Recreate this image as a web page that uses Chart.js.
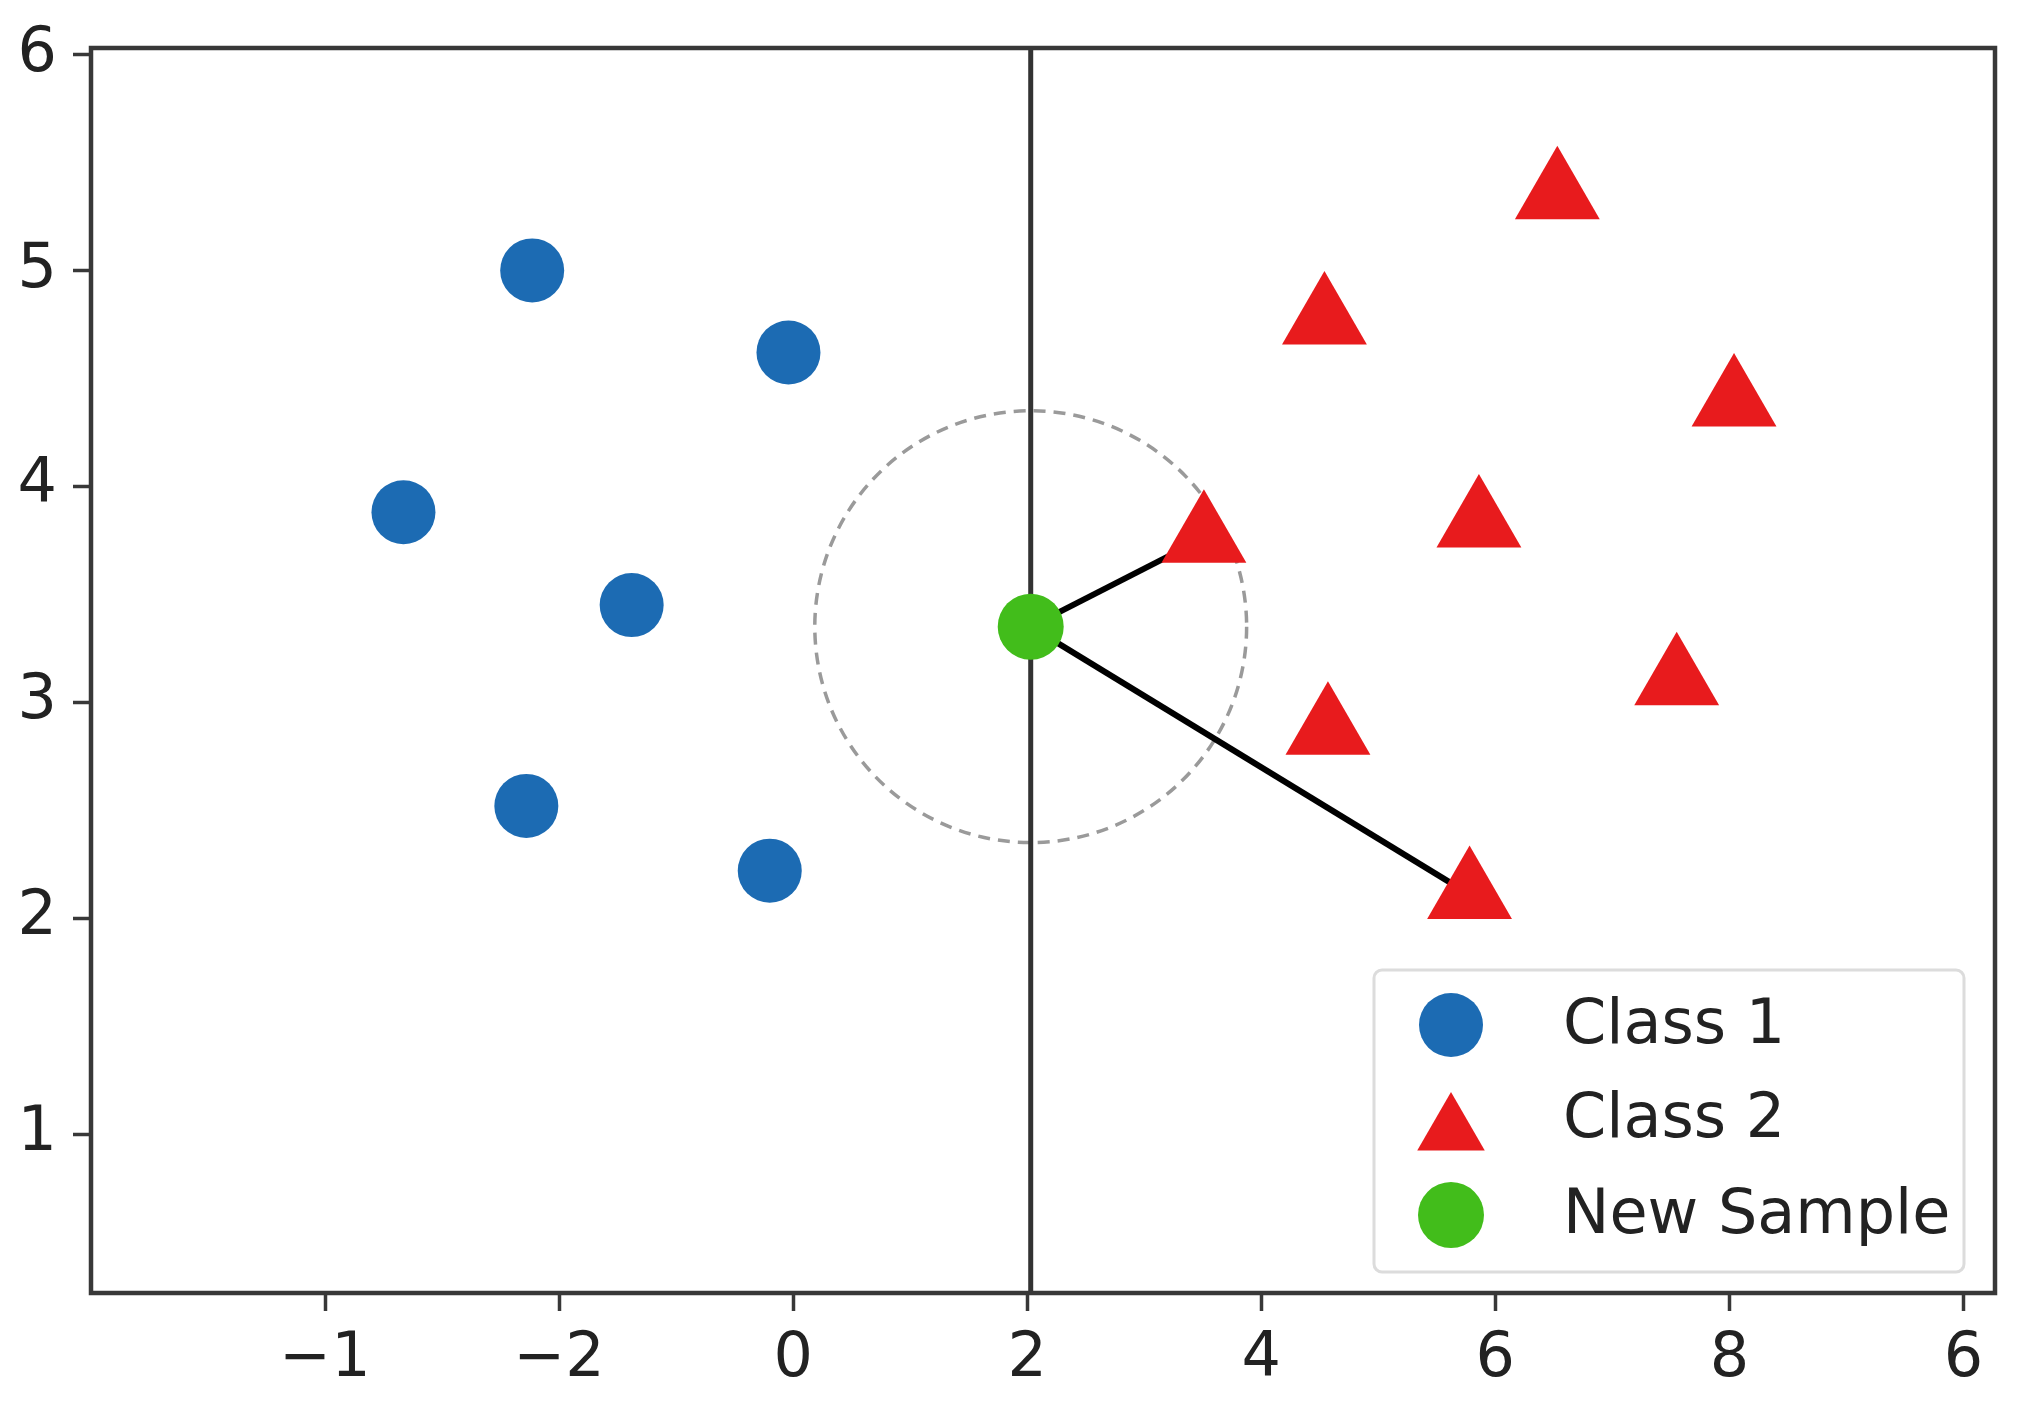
<!DOCTYPE html>
<html>
<head>
<meta charset="utf-8">
<script src="https://cdn.jsdelivr.net/npm/chart.js@4.4.1/dist/chart.umd.min.js"></script>
<style>
  html, body { margin: 0; padding: 0; background: #fff; }
  #wrap { width: 2026px; height: 1411px; }
</style>
</head>
<body>
<div id="wrap"><canvas id="knn-chart" width="2026" height="1411"></canvas></div>
<script>
// axis ticks (the x labels are printed as in the source figure)
const xTickValues = [-4, -2, 0, 2, 4, 6, 8, 10];
const xTickLabels = ['\u22121', '\u22122', '0', '2', '4', '6', '8', '6'];
const yTickValues = [1, 2, 3, 4, 5, 6];
const xLimits = [-6, 10.27];
const yLimits = [0.264, 6.03];

// points
const class1X = [-2.23, -0.04, -3.33, -1.38, -2.28, -0.20];
const class1Y = [5.00, 4.62, 3.88, 3.45, 2.52, 2.22];
const class2X = [6.53, 4.54, 8.04, 5.86, 3.51, 7.55, 4.57, 5.78];
const class2Y = [5.35, 4.77, 4.39, 3.83, 3.76, 3.10, 2.87, 2.11];
const sampleX = [2.03];
const sampleY = [3.35];
const neighbourIdx = [4, 7];
const circleRadiusY = 1.0;
const seriesLabels = ['Class 1', 'Class 2', 'New Sample'];

const BLUE = '#1c6bb3';
const RED = '#e81b1d';
const GREEN = '#42bd1b';
const FONT = "'DejaVu Sans', 'Liberation Sans', sans-serif";

const toPoints = (xs, ys) => xs.map((x, i) => ({ x, y: ys[i] }));
const sample = { x: sampleX[0], y: sampleY[0] };

const datasets = [
    { label: seriesLabels[0], data: toPoints(class1X, class1Y), pointStyle: 'circle',
      pointRadius: 32, backgroundColor: BLUE, borderWidth: 0, order: 1 },
    { label: seriesLabels[1], data: toPoints(class2X, class2Y), pointStyle: 'triangle',
      pointRadius: 49, backgroundColor: RED, borderWidth: 0, order: 1 },
    { label: seriesLabels[2], data: [sample], pointStyle: 'circle',
      pointRadius: 33, backgroundColor: GREEN, borderWidth: 0, order: 0 }
];

neighbourIdx.forEach(i => {
    datasets.push({
        label: 'link', data: [sample, { x: class2X[i], y: class2Y[i] }],
        showLine: true, pointRadius: 0, borderColor: '#000', borderWidth: 6, order: 5
    });
});

datasets.push({
    label: 'split', data: [{ x: sampleX[0], y: yLimits[0] }, { x: sampleX[0], y: yLimits[1] }],
    showLine: true, pointRadius: 0, borderColor: '#333', borderWidth: 5, order: 6
});

// dashed circle around the new sample, round in pixels
const circlePlugin = {
    id: 'circle',
    beforeDatasetsDraw(chart) {
        const { ctx, scales } = chart;
        const cx = scales.x.getPixelForValue(sample.x);
        const cy = scales.y.getPixelForValue(sample.y);
        const r = Math.abs(scales.y.getPixelForValue(sample.y + circleRadiusY) - cy);
        ctx.save();
        ctx.strokeStyle = '#9a9a9a';
        ctx.lineWidth = 3.5;
        ctx.setLineDash([12, 8]);
        ctx.beginPath();
        ctx.arc(cx, cy, r, 0, Math.PI * 2);
        ctx.stroke();
        ctx.restore();
    }
};

const framePlugin = {
    id: 'frame',
    afterDatasetsDraw(chart) {
        const { ctx, chartArea: a } = chart;
        ctx.save();
        ctx.strokeStyle = '#383838';
        ctx.lineWidth = 4.5;
        ctx.strokeRect(a.left, a.top, a.right - a.left, a.bottom - a.top);
        ctx.restore();
    }
};

const legendPlugin = {
    id: 'boxLegend',
    afterDraw(chart) {
        const { ctx, chartArea: a } = chart;
        const w = 590, h = 302;
        const x0 = a.right - 31 - w, y0 = a.bottom - 21 - h;
        ctx.save();
        ctx.fillStyle = 'rgba(255,255,255,0.9)';
        ctx.strokeStyle = '#dcdcdc';
        ctx.lineWidth = 3;
        ctx.beginPath();
        ctx.roundRect(x0, y0, w, h, 8);
        ctx.fill();
        ctx.stroke();

        const rows = [y0 + 55, y0 + 149, y0 + 245];
        const styles = [
            { pointStyle: 'circle', radius: 32, color: BLUE, dy: 0 },
            { pointStyle: 'triangle', radius: 39, color: RED, dy: 12 },
            { pointStyle: 'circle', radius: 33, color: GREEN, dy: 0 }
        ];
        ctx.font = '62px ' + FONT;
        ctx.textBaseline = 'middle';
        rows.forEach((ry, i) => {
            const s = styles[i];
            ctx.fillStyle = s.color;
            Chart.helpers.drawPoint(ctx, { pointStyle: s.pointStyle, radius: s.radius, rotation: 0, borderWidth: 0 },
                x0 + 77, ry + s.dy);
            ctx.fillStyle = '#222';
            ctx.fillText(seriesLabels[i], x0 + 189, ry + 2);
        });
        ctx.restore();
    }
};

new Chart(document.getElementById('knn-chart'), {
    type: 'scatter',
    data: { datasets },
    options: {
        responsive: false,
        animation: false,
        devicePixelRatio: 1,
        layout: { autoPadding: false, padding: { top: 48, right: 31, left: 0, bottom: 0 } },
        plugins: { legend: { display: false }, tooltip: { enabled: false } },
        scales: {
            x: {
                type: 'linear',
                min: xLimits[0],
                max: xLimits[1],
                afterBuildTicks: scale => { scale.ticks = xTickValues.map(v => ({ value: v })); },
                afterFit: scale => { scale.height = 118; scale.paddingLeft = 0; scale.paddingRight = 0; },
                ticks: {
                    callback: v => xTickLabels[xTickValues.indexOf(v)],
                    font: { family: FONT, size: 62 },
                    color: '#222',
                    padding: 12,
                    maxRotation: 0
                },
                grid: { drawOnChartArea: false, drawTicks: true, tickLength: 18, tickWidth: 3.5, tickColor: '#383838' },
                border: { display: false }
            },
            y: {
                type: 'linear',
                min: yLimits[0],
                max: yLimits[1],
                afterBuildTicks: scale => { scale.ticks = yTickValues.map(v => ({ value: v })); },
                afterFit: scale => { scale.width = 91; scale.paddingTop = 0; scale.paddingBottom = 0; },
                ticks: {
                    callback: v => String(v),
                    font: { family: FONT, size: 62 },
                    color: '#222',
                    padding: 16
                },
                grid: { drawOnChartArea: false, drawTicks: true, tickLength: 18, tickWidth: 3.5, tickColor: '#383838' },
                border: { display: false }
            }
        }
    },
    plugins: [circlePlugin, framePlugin, legendPlugin]
});
</script>
</body>
</html>
